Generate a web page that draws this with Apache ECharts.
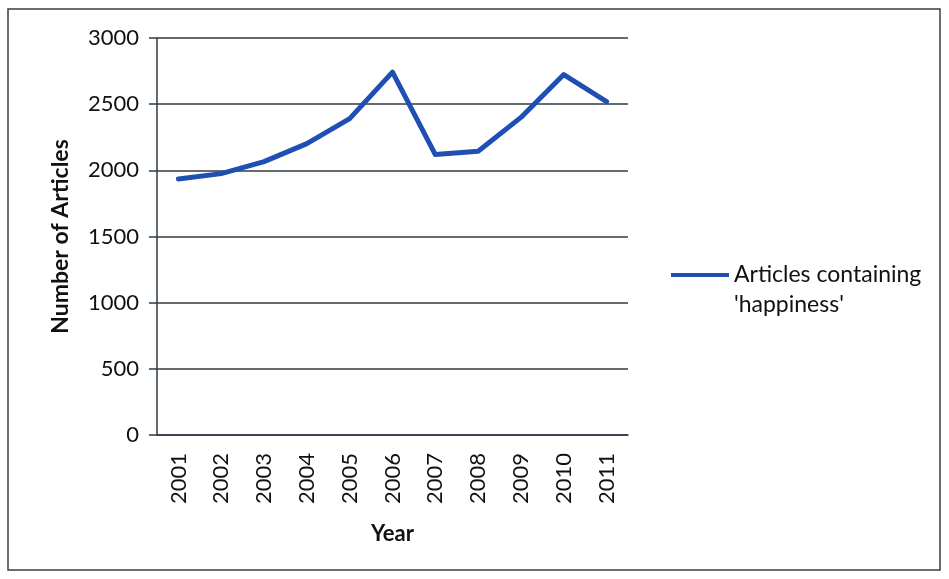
<!DOCTYPE html>
<html>
<head>
<meta charset="utf-8">
<script src="https://cdn.jsdelivr.net/npm/echarts@6/dist/echarts.min.js"></script>
<style>
  html, body { margin: 0; padding: 0; background: #ffffff; }
  #chart { width: 949px; height: 579px; }
</style>
</head>
<body>
<div id="chart"></div>
<script>
// Yearly count of articles mentioning 'happiness'
const years = ['2001', '2002', '2003', '2004', '2005', '2006', '2007', '2008', '2009', '2010', '2011'];
const articleCounts = [1935, 1975, 2066, 2202, 2391, 2742, 2119, 2144, 2400, 2724, 2520];
const seriesName = "Articles containing 'happiness'";
const yTicks = { min: 0, max: 3000, interval: 500 };

const FONT = 'Lato';
const chart = echarts.init(document.getElementById('chart'));

chart.setOption({
  animation: false,
  backgroundColor: '#ffffff',
  textStyle: { fontFamily: FONT },
  graphic: [{
    type: 'rect',
    shape: { x: 8, y: 9, width: 932, height: 561 },
    style: { fill: 'none', stroke: '#3c3c3c', lineWidth: 1.5 },
    silent: true
  }],
  grid: { left: 157, right: 321, top: 38, bottom: 144, containLabel: false },
  legend: {
    left: 666,
    top: 225,
    icon: 'rect',
    itemWidth: 58,
    itemHeight: 4,
    data: [seriesName],
    // the key sits beside the first of the two wrapped lines
    formatter: () => " \nArticles containing\n'happiness'",
    textStyle: {
      fontFamily: FONT,
      fontSize: 23,
      color: '#111',
      lineHeight: 30
    }
  },
  xAxis: {
    type: 'category',
    data: years,
    boundaryGap: true,
    name: 'Year',
    nameLocation: 'middle',
    nameGap: 88,
    nameTextStyle: { fontFamily: FONT, fontSize: 22, fontWeight: 'bold', color: '#111' },
    axisLine: { lineStyle: { color: '#2f3a45', width: 1.5 } },
    axisTick: { show: false },
    axisLabel: {
      rotate: 90,
      margin: 18,
      fontFamily: FONT,
      fontSize: 22,
      color: '#111'
    },
    splitLine: { show: false }
  },
  yAxis: {
    type: 'value',
    min: yTicks.min,
    max: yTicks.max,
    interval: yTicks.interval,
    name: 'Number of Articles',
    nameLocation: 'middle',
    nameGap: 85,
    nameTextStyle: { fontFamily: FONT, fontSize: 23, fontWeight: 'bold', color: '#111' },
    axisLine: { show: true, lineStyle: { color: '#2f3a45', width: 1.5 } },
    axisTick: { show: true, length: 8, lineStyle: { color: '#2f3a45', width: 1.5 } },
    axisLabel: {
      margin: 18,
      fontFamily: FONT,
      fontSize: 22,
      color: '#111',
      formatter: (v) => String(v)
    },
    splitLine: { show: true, lineStyle: { color: '#2f3a45', width: 1.5 } }
  },
  series: [{
    name: seriesName,
    type: 'line',
    data: articleCounts,
    symbol: 'none',
    lineStyle: { color: '#1f4fb3', width: 5, join: 'round', cap: 'round' },
    itemStyle: { color: '#1f4fb3' }
  }]
});
</script>
</body>
</html>
